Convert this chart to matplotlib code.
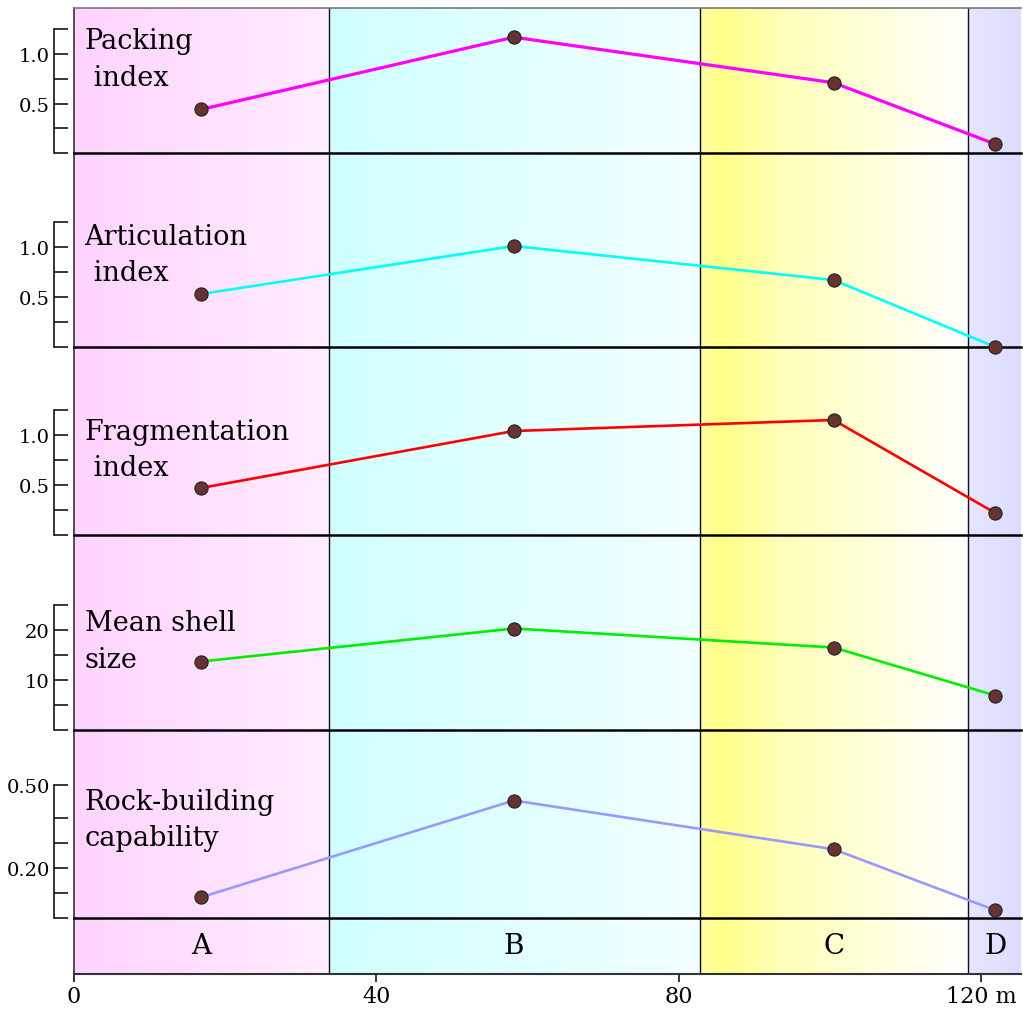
import matplotlib
matplotlib.use('Agg')
import matplotlib.pyplot as plt
import numpy as np
from matplotlib.colors import to_rgb

plt.rcParams['font.family'] = ['DejaVu Serif']

W, H = 1023, 1012

# zone layout along the transect (m)
zone_names = ['A', 'B', 'C', 'D']
zone_edges = [0, 33.7, 82.8, 118.3, 125.3]
site_x = [16.8, 58.2, 100.5, 121.9]

# indices per site
packing = [0.44, 1.17, 0.71, 0.09]
articulation = [0.53, 1.01, 0.67, 0.00]
fragmentation = [0.47, 1.04, 1.15, 0.22]
shell_size = [13.7, 20.3, 16.5, 6.9]
rock_building = [0.083, 0.47, 0.275, 0.031]

panel_titles = ['Packing\n index', 'Articulation\n index', 'Fragmentation\n index',
                'Mean shell\nsize', 'Rock-building\ncapability']
panel_colors = ['#ff00ff', '#00ffff', '#ff0000', '#00ee00', '#9999ff']
panel_data = [packing, articulation, fragmentation, shell_size, rock_building]
panel_ticks = [[0, 0.25, 0.5, 0.75, 1.0, 1.25],
               [0, 0.25, 0.5, 0.75, 1.0, 1.25],
               [0, 0.25, 0.5, 0.75, 1.0, 1.25],
               [0, 5, 10, 15, 20, 25],
               [0, 0.1, 0.2, 0.3, 0.4, 0.532]]
panel_ticklabels = [['', '', '0.5', '', '1.0', ''],
                    ['', '', '0.5', '', '1.0', ''],
                    ['', '', '0.5', '', '1.0', ''],
                    ['', '', '10', '', '20', ''],
                    ['', '', '0.20', '', '', '0.50']]
panel_ylim = [1.465, 1.94, 1.88, 39, 0.752]
panel_label_y = [0.95, 0.925, 0.857, 17.8, 0.395]
panel_px = [(9, 154), (154, 348), (348, 536), (536, 731), (731, 919)]

X0, X1 = 74, 1021
Y0, Y1 = 9, 975


def rect(x0, y0, x1, y1):
    return [x0 / W, 1 - y1 / H, (x1 - x0) / W, (y1 - y0) / H]


fig = plt.figure(figsize=(W / 100, H / 100), dpi=100)

# background zones with gradients
bg = fig.add_axes(rect(X0, Y0, X1, Y1))
bg.set_xlim(zone_edges[0], zone_edges[-1])
bg.set_ylim(0, 1)
grads = [
    [(0.0, '#ffd3ff'), (1.0, '#ffedff')],
    [(0.0, '#d0ffff'), (1.0, '#f2ffff')],
    [(0.0, '#ffffa8'), (0.07, '#ffff88'), (0.3, '#ffffb8'), (1.0, '#ffffff')],
    [(0.0, '#e6e6ff'), (1.0, '#dcdcff')],
]
for i, stops in enumerate(grads):
    n = 200
    t = np.linspace(0, 1, n)
    pos = [s[0] for s in stops]
    cols = np.array([to_rgb(s[1]) for s in stops])
    img = np.stack([np.interp(t, pos, cols[:, k]) for k in range(3)], axis=-1)
    bg.imshow(img[None, :, :], extent=[zone_edges[i], zone_edges[i + 1], 0, 1],
              aspect='auto', interpolation='bilinear', zorder=0)
for xe in zone_edges[1:-1]:
    bg.axvline(xe, color='#111111', lw=1.0, zorder=1)
bg.set_xticks([])
bg.set_yticks([])
bg.spines['right'].set_visible(False)
bg.spines['bottom'].set_visible(False)
bg.spines['top'].set_color('#777777')
bg.spines['top'].set_linewidth(1.2)
bg.spines['left'].set_color('#333333')
bg.spines['left'].set_linewidth(1.2)

for i in range(5):
    py0, py1 = panel_px[i]
    ax = fig.add_axes(rect(X0, py0, X1, py1))
    ax.set_facecolor('none')
    ax.set_xlim(zone_edges[0], zone_edges[-1])
    ax.set_ylim(0, panel_ylim[i])
    lw = 2.3 if i == 0 else 1.9
    ax.plot(site_x, panel_data[i], color=panel_colors[i], lw=lw, zorder=3,
            clip_on=False)
    ax.plot(site_x, panel_data[i], 'o', ms=9.5, mfc='#663333', mec='#222222',
            mew=0.8, zorder=4, clip_on=False)
    ax.text(1.4, panel_label_y[i], panel_titles[i], fontsize=19.5, va='center',
            ha='left', linespacing=1.45)
    for s in ['top', 'right']:
        ax.spines[s].set_visible(False)
    ax.spines['bottom'].set_linewidth(1.8)
    ax.spines['bottom'].set_color('black')
    ax.spines['left'].set_position(('outward', 14.4))
    ax.spines['left'].set_bounds(0, panel_ticks[i][-1])
    ax.spines['left'].set_linewidth(1.1)
    ax.set_yticks(panel_ticks[i])
    ax.set_yticklabels(panel_ticklabels[i])
    ax.tick_params(axis='y', direction='in', length=10, width=1.1,
                   labelsize=14, pad=3)
    ax.set_xticks([])

# zone letters and distance axis
strip = fig.add_axes(rect(X0, 919, X1, Y1))
strip.set_facecolor('none')
strip.set_xlim(zone_edges[0], zone_edges[-1])
strip.set_ylim(0, 1)
for name, xc in zip(zone_names, site_x):
    strip.text(xc, 0.5, name, fontsize=20, ha='center', va='center')
for s in ['top', 'right', 'left']:
    strip.spines[s].set_visible(False)
strip.spines['bottom'].set_color('#333333')
strip.spines['bottom'].set_linewidth(1.5)
strip.set_yticks([])
strip.set_xticks([0, 40, 80, 120])
strip.set_xticklabels(['0', '40', '80', '120 m'])
strip.tick_params(axis='x', direction='out', length=6, width=1.1,
                  labelsize=16, pad=2)

fig.savefig('out.png', dpi=100)
